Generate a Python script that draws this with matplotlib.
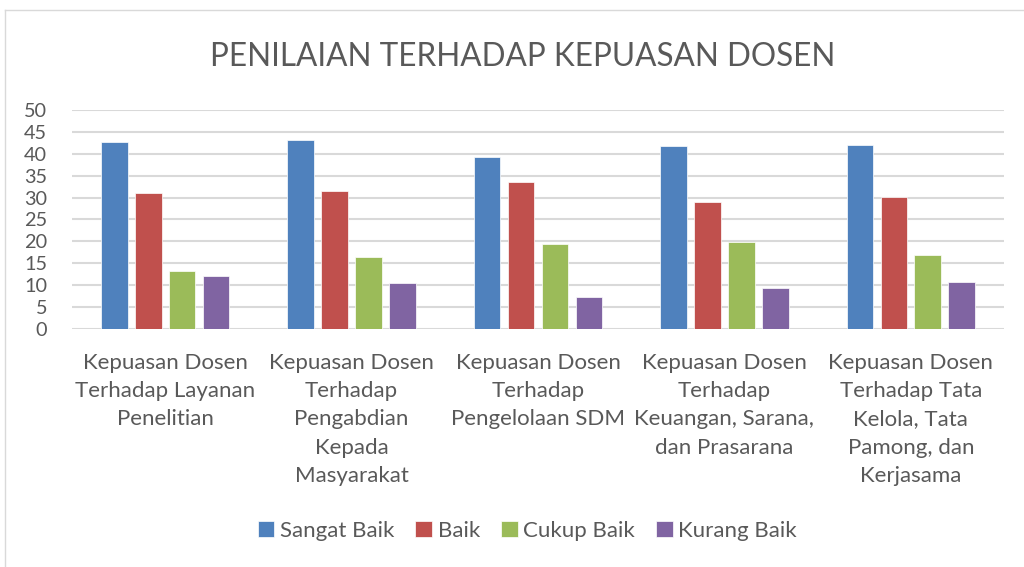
import matplotlib
matplotlib.use("Agg")
import matplotlib.pyplot as plt
import numpy as np

categories = ["Kepuasan Dosen\nTerhadap Layanan\nPenelitian",
              "Kepuasan Dosen\nTerhadap\nPengabdian\nKepada\nMasyarakat",
              "Kepuasan Dosen\nTerhadap\nPengelolaan SDM",
              "Kepuasan Dosen\nTerhadap\nKeuangan, Sarana,\ndan Prasarana",
              "Kepuasan Dosen\nTerhadap Tata\nKelola, Tata\nPamong, dan\nKerjasama"]
series_names = ["Sangat Baik", "Baik", "Cukup Baik", "Kurang Baik"]
sangat_baik = [42.6, 43.1, 39.3, 41.7, 41.9]
baik = [31.0, 31.5, 33.6, 29.1, 30.1]
cukup_baik = [13.3, 16.4, 19.4, 19.9, 16.9]
kurang_baik = [12.2, 10.6, 7.2, 9.4, 10.7]
colors = ["#4F81BD", "#C0504D", "#9BBB59", "#8064A2"]

plt.rcParams['font.family'] = ['Lato', 'DejaVu Sans']
text_col = "#595959"

fig = plt.figure(figsize=(10.24, 5.67), dpi=100)
ax = fig.add_axes([0.0703, 0.4198, 0.9102, 0.3862])

x = np.arange(len(categories))
width = 0.143
step = 0.182
for i, (vals, name) in enumerate(zip([sangat_baik, baik, cukup_baik, kurang_baik], series_names)):
    ax.bar(x + (i - 1.5) * step, vals, width, color=colors[i], label=name,
           zorder=3, edgecolor="white", linewidth=0.5)

ax.set_xlim(-0.5, len(categories) - 0.5)
ax.set_ylim(0, 50)
ax.set_yticks(np.arange(0, 51, 5))
ax.yaxis.grid(True, color="#D9D9D9", linewidth=1.5, zorder=0)
ax.set_axisbelow(True)
for s in ax.spines.values():
    s.set_visible(False)
ax.tick_params(axis="y", length=0, labelsize=14.3, labelcolor=text_col, pad=18)
ax.tick_params(axis="x", length=0, labelsize=16, labelcolor=text_col, pad=17)
ax.set_xticks(x)
ax.set_xticklabels(categories, linespacing=1.52)

fig.text(0.51, 0.899, "PENILAIAN TERHADAP KEPUASAN DOSEN", ha="center", va="center",
         fontsize=22.7, color=text_col)

fig.legend(loc="center", bbox_to_anchor=(0.515, 0.064), ncol=4, frameon=False,
           fontsize=16, labelcolor=text_col, handlelength=0.75, handleheight=0.75,
           handletextpad=0.25, columnspacing=0.95)

# outer chart frame
fig.add_artist(plt.Line2D([0.005, 1.0], [0.982, 0.982], color="#D9D9D9", linewidth=1))
fig.add_artist(plt.Line2D([0.005, 0.005], [0.0, 0.982], color="#D9D9D9", linewidth=1))

fig.savefig("out.png", dpi=100, facecolor="white")
